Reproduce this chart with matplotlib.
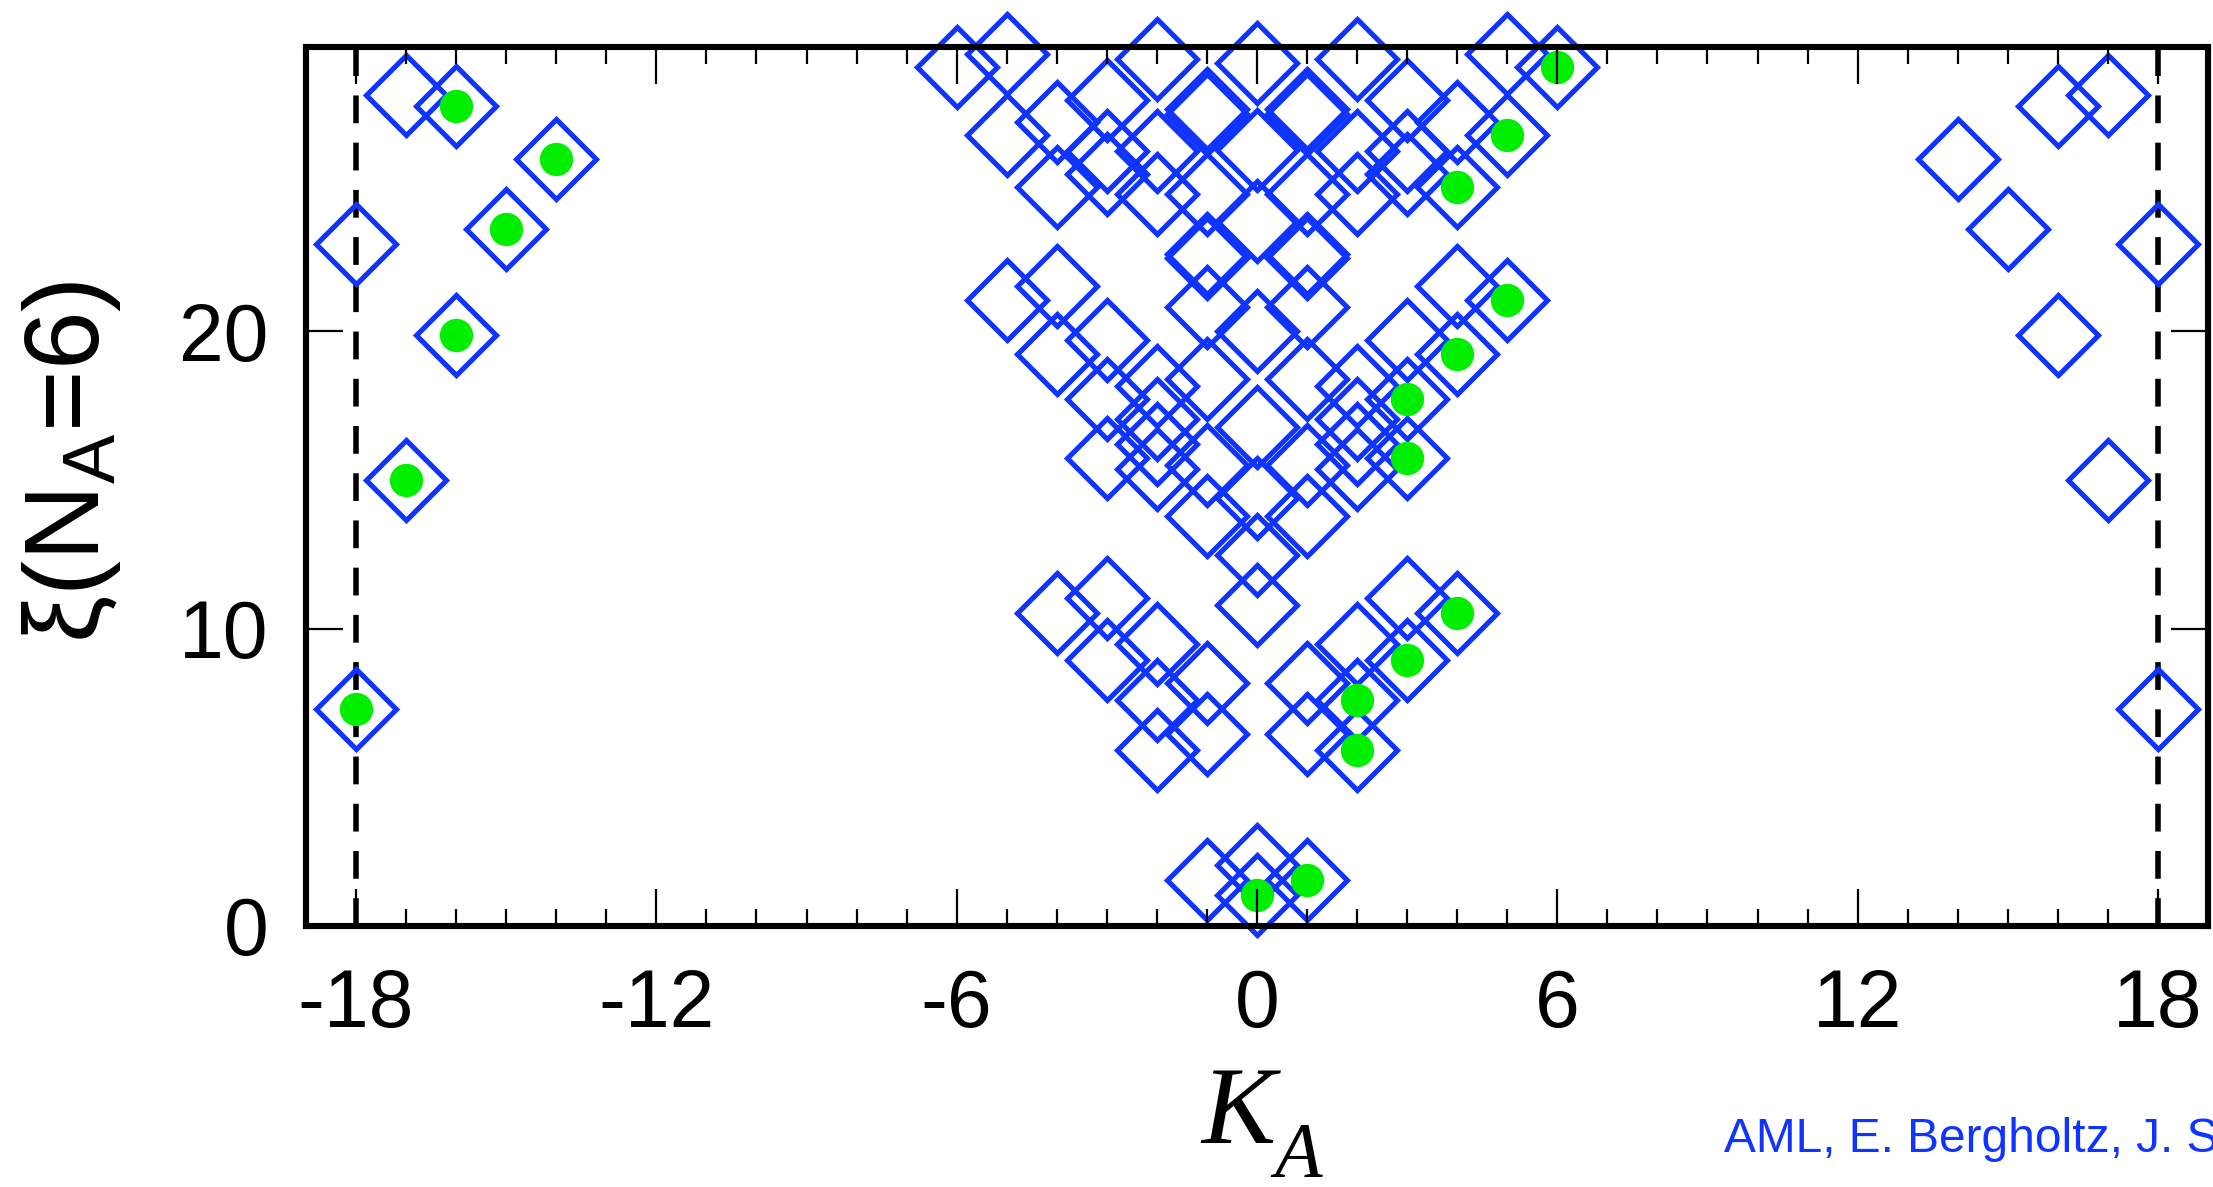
import matplotlib
matplotlib.use("Agg")
import matplotlib.pyplot as plt
from matplotlib.ticker import FixedLocator, MultipleLocator

plt.rcParams["font.family"] = ["Liberation Sans", "DejaVu Sans"]
plt.rcParams["mathtext.fontset"] = "custom"
plt.rcParams["mathtext.rm"] = "Liberation Sans"
plt.rcParams["mathtext.it"] = "Liberation Sans:italic"
plt.rcParams["axes.unicode_minus"] = False
plt.rcParams["lines.scale_dashes"] = False

# Entanglement levels xi for each momentum K_A of the central group
# (levels at K > 0 are repeated at -K).
k0_xi = [1.05, 2.05, 10.79, 12.47, 14.4, 16.78, 20.0, 23.7, 26.1, 29.0]
k1_xi = [1.55, 6.44, 8.16, 13.79, 15.49, 18.40, 20.8, 22.45, 22.6, 24.6, 27.3, 27.45]
k2_xi = [5.91, 7.59, 9.47, 15.36, 16.19, 17.03, 18.15, 24.6, 26.05, 29.15]
k3_xi = [8.94, 11.03, 15.74, 17.70, 19.70, 25.29, 26.07, 27.76]
k4_xi = [10.53, 19.24, 21.5, 24.84, 27.03]
k5_xi = [21.05, 26.58, 29.32]
k6_xi = [28.88]

# Levels near the zone edge (|K_A| = 14..18), mirrored to both sides
edge_k = [14, 15, 16, 16, 17, 17, 18, 18]
edge_xi = [25.80, 23.42, 19.88, 27.55, 14.99, 27.92, 7.28, 22.92]

# Levels of the reference (filled) spectrum
dot_k = [0, 1, 2, 2, 3, 4, 3, 3, 4, 5, 4, 5, 6,
         -18, -17, -16, -15, -16, -14]
dot_xi = [1.05, 1.55, 5.91, 7.59, 8.94, 10.53, 15.74, 17.70, 19.24, 21.05,
          24.84, 26.58, 28.88,
          7.28, 14.99, 19.88, 23.42, 27.55, 25.80]

x_ticks = [-18, -12, -6, 0, 6, 12, 18]
y_ticks = [0, 10, 20]
boundary_k = [-18, 18]

BLUE = "#1034FF"
GREEN = "#00EE00"

diamond_k, diamond_xi = [], []
for xi in k0_xi:
    diamond_k.append(0)
    diamond_xi.append(xi)
for k, levels in zip(range(1, 7), [k1_xi, k2_xi, k3_xi, k4_xi, k5_xi, k6_xi]):
    for xi in levels:
        diamond_k += [k, -k]
        diamond_xi += [xi, xi]
for k, xi in zip(edge_k, edge_xi):
    diamond_k += [k, -k]
    diamond_xi += [xi, xi]

W, H = 2213, 1187
fig = plt.figure(figsize=(W / 100, H / 100), dpi=100)
ax = fig.add_axes([306 / W, 1 - 926 / H, (2208 - 306) / W, (926 - 47) / H])
ax.set_xlim(-19, 19)
ax.set_ylim(0, 29.55)

for kb in boundary_k:
    ax.axvline(kb, color="black", lw=4.0, dashes=(20, 14), zorder=1)

ax.plot(diamond_k, diamond_xi, ls="none", marker="D", ms=40.5,
        mfc="none", mec=BLUE, mew=3.7, clip_on=False, zorder=2.1)
ax.plot(dot_k, dot_xi, ls="none", marker="o", ms=24,
        mfc=GREEN, mec="none", clip_on=False, zorder=2.2)

ax.set_axisbelow(False)
ax.xaxis.set_major_locator(FixedLocator(x_ticks))
ax.xaxis.set_minor_locator(MultipleLocator(1))
ax.yaxis.set_major_locator(FixedLocator(y_ticks))
ax.tick_params(which="both", direction="in", top=True, right=True,
               color="black")
ax.tick_params(which="major", length=26.5, width=1.6)
ax.tick_params(which="minor", length=12, width=1.6)
ax.tick_params(axis="x", which="major", pad=30, labelsize=58)
ax.tick_params(axis="y", which="major", pad=27, labelsize=58)
for s in ax.spines.values():
    s.set_linewidth(4.4)

fig.text(72 / W, 1 - 462 / H, r"ξ(N$_\mathregular{A}$=6)", fontsize=76,
         rotation=90, ha="center", va="center")

fig.text(1238 / W, 1 - 1143 / H, "K", fontsize=80, family="Liberation Serif",
         style="italic", ha="center", va="baseline")
fig.text(1298 / W, 1 - 1176 / H, "A", fontsize=56, family="Liberation Serif",
         style="italic", ha="center", va="baseline")

fig.text(1724 / W, 1 - 1152 / H, "AML, E. Bergholtz, J. Suorsa", fontsize=34.5,
         color=BLUE, ha="left", va="baseline")

fig.savefig("out.png", dpi=100)
